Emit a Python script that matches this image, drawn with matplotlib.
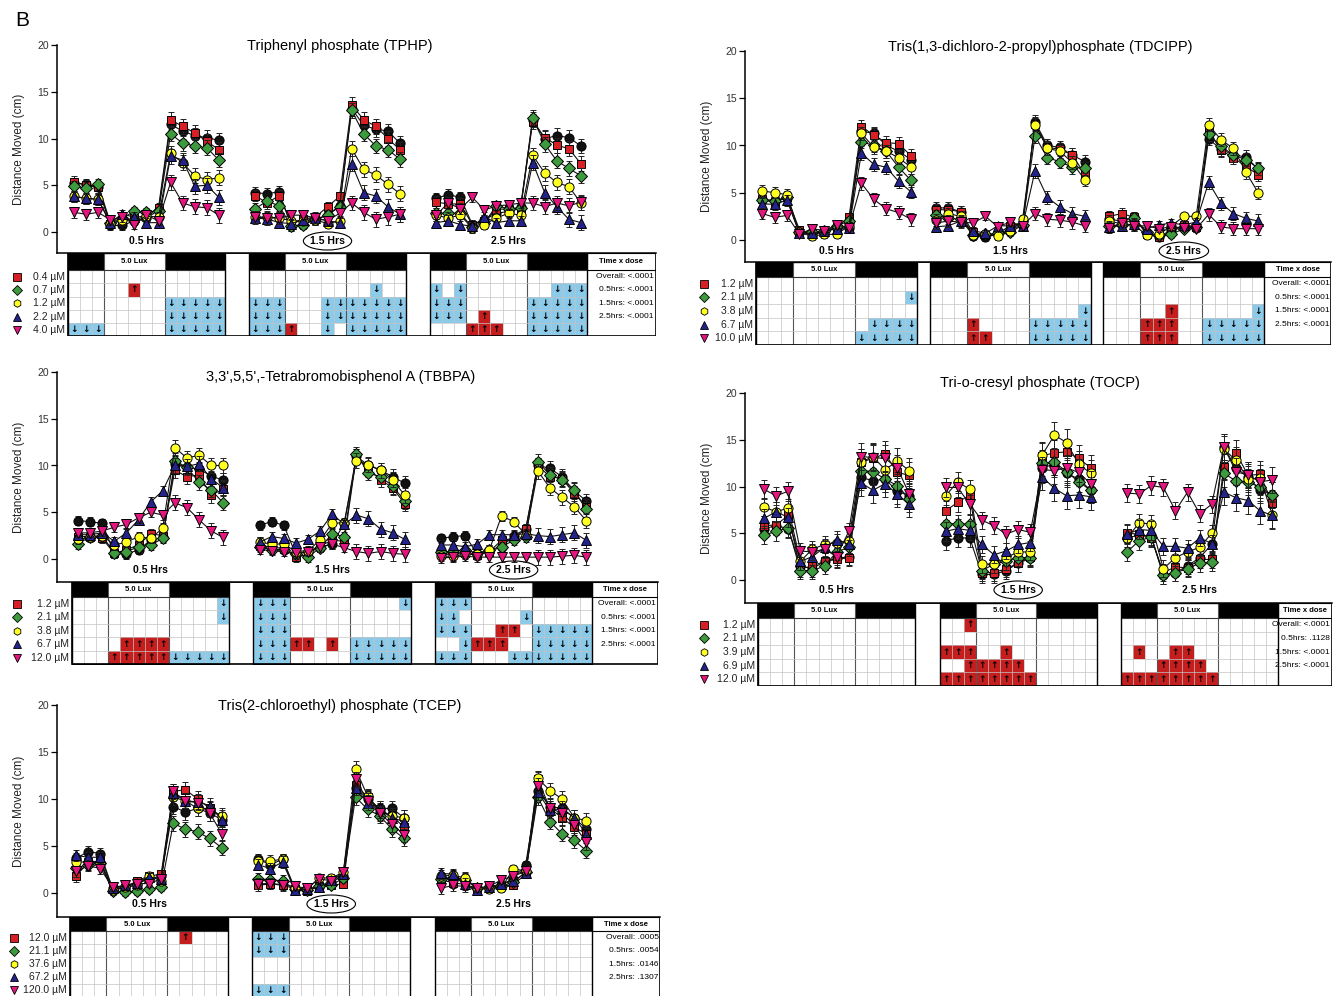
import numpy as np
import matplotlib.pyplot as plt
from matplotlib.patches import Rectangle, Ellipse

plt.rcParams['font.family'] = ['Liberation Sans', 'DejaVu Sans']

# ---------------- data (3 time blocks x 13 bins each) ----------------
# TPHP
tphp_ctrl = [5.2, 5.1, 4.8, 0.7, 0.7, 1.2, 1.5, 2.3, 11.5, 10.8, 10.3, 10.1, 9.8,
             4.2, 4.1, 4.3, 0.6, 0.8, 1.3, 1.8, 2.8, 13.2, 11.4, 11.0, 10.8, 9.5,
             3.6, 4.0, 3.7, 0.8, 1.3, 2.0, 2.2, 2.7, 12.0, 10.0, 10.3, 10.1, 9.2]
tphp_d1 = [5.4, 5.0, 4.8, 0.9, 1.2, 1.5, 1.8, 2.6, 12.0, 11.3, 10.6, 9.7, 8.8,
           3.9, 3.1, 3.9, 0.9, 1.4, 1.6, 2.7, 3.8, 13.6, 12.0, 11.3, 10.0, 8.8,
           3.2, 3.0, 3.0, 0.8, 1.2, 2.4, 2.5, 2.5, 11.8, 10.1, 9.3, 8.9, 7.3]
tphp_d2 = [4.9, 4.7, 5.1, 1.0, 1.5, 2.2, 2.1, 2.2, 10.5, 9.5, 9.2, 9.0, 7.7,
           2.5, 3.3, 2.8, 0.6, 0.8, 1.4, 1.8, 2.7, 13.0, 10.5, 9.2, 8.8, 7.8,
           2.0, 2.0, 2.0, 0.5, 1.0, 2.8, 2.5, 2.6, 12.2, 9.4, 7.6, 6.8, 6.0]
tphp_d3 = [3.8, 3.6, 3.5, 0.9, 1.3, 1.3, 1.7, 1.6, 8.4, 7.4, 6.0, 5.6, 5.8,
           1.6, 1.6, 1.5, 1.2, 1.2, 1.3, 0.9, 1.2, 8.9, 6.7, 6.1, 5.1, 4.1,
           1.8, 1.5, 1.8, 0.4, 0.8, 1.5, 2.0, 1.8, 8.2, 6.3, 5.3, 4.85, 3.1]
tphp_d4 = [3.8, 3.6, 3.5, 1.0, 1.9, 1.6, 1.0, 1.0, 8.1, 7.7, 4.9, 5.0, 3.7,
           1.5, 1.4, 1.0, 0.9, 1.3, 1.5, 1.2, 1.0, 7.3, 4.2, 3.85, 2.7, 1.9,
           1.0, 1.2, 0.8, 0.6, 1.6, 1.0, 1.2, 1.2, 7.4, 4.2, 2.7, 1.35, 1.0]
tphp_d5 = [2.1, 1.9, 2.1, 1.3, 1.6, 0.8, 1.8, 1.2, 5.3, 3.1, 2.7, 2.6, 1.8,
           1.6, 1.5, 1.5, 1.8, 1.8, 1.5, 1.2, 2.0, 3.1, 2.1, 1.35, 1.6, 1.9,
           1.8, 3.1, 2.5, 3.7, 2.35, 2.8, 2.9, 3.1, 3.1, 2.7, 3.1, 2.8, 3.2]
tphp_sem = [0.6, 0.5, 0.8]
tphp_doses = ['0.4', '0.7', '1.2', '2.2', '4.0']
tphp_sig = [".............|.............|.............",
            ".....u.......|..........d..|d.d.......ddd",
            "........ddddd|ddd...ddddddd|ddd.....ddddd",
            "........ddddd|ddd...ddddddd|ddd.u...ddddd",
            "ddd.....ddddd|dddu..d.ddddd|...uuu..ddddd"]
tphp_p = ['Overall: <.0001', '0.5hrs: <.0001', '1.5hrs: <.0001', '2.5hrs: <.0001']

# TDCIPP
tdcipp_ctrl = [4.3, 4.2, 4.4, 0.7, 0.7, 0.8, 1.3, 1.3, 11.5, 11.3, 10.0, 9.4, 8.5,
               3.4, 3.4, 3.0, 0.4, 0.3, 0.6, 1.2, 1.5, 12.5, 10.0, 9.8, 9.0, 8.3,
               2.2, 2.0, 2.4, 0.7, 0.3, 1.1, 1.5, 1.3, 10.7, 9.6, 9.0, 8.8, 7.5]
tdcipp_d1 = [4.3, 4.0, 4.5, 1.1, 0.6, 0.8, 1.4, 2.4, 12.0, 11.1, 10.3, 10.2, 8.9,
             3.2, 3.2, 3.0, 0.8, 0.5, 0.7, 1.5, 1.8, 12.3, 9.8, 9.6, 9.0, 7.0,
             2.5, 2.8, 2.4, 0.6, 0.3, 0.8, 1.6, 1.4, 11.5, 9.5, 8.7, 7.8, 6.9]
tdcipp_d2 = [4.2, 4.1, 4.6, 0.8, 0.8, 0.9, 1.5, 2.0, 10.4, 10.0, 9.4, 7.7, 6.3,
             2.6, 2.3, 2.2, 0.5, 0.6, 0.7, 0.8, 1.6, 11.0, 8.7, 8.3, 7.7, 7.6,
             1.5, 1.6, 2.3, 0.8, 0.5, 0.6, 1.2, 1.4, 11.2, 9.9, 9.0, 8.5, 7.6]
tdcipp_d3 = [5.2, 5.0, 4.8, 0.8, 0.4, 0.6, 0.6, 1.5, 11.3, 9.8, 9.4, 8.7, 7.7,
             2.1, 2.8, 2.5, 0.5, 0.6, 0.4, 0.9, 2.2, 12.2, 9.7, 9.4, 8.2, 6.4,
             2.0, 1.7, 1.6, 0.5, 0.6, 1.5, 2.5, 2.5, 12.2, 10.6, 9.7, 7.2, 5.0]
tdcipp_d4 = [3.8, 3.8, 4.2, 0.7, 0.7, 0.9, 1.2, 1.3, 9.2, 8.0, 7.7, 6.2, 5.1,
             1.4, 1.5, 2.0, 1.0, 0.7, 1.5, 1.5, 1.5, 7.3, 4.5, 3.5, 2.8, 2.5,
             1.4, 1.5, 1.7, 1.2, 1.6, 1.8, 1.6, 1.9, 6.1, 3.9, 2.8, 2.3, 2.0]
tdcipp_d5 = [2.8, 2.4, 2.6, 0.6, 1.2, 1.0, 1.6, 1.3, 6.0, 4.3, 3.3, 2.9, 2.2,
             1.8, 2.0, 1.9, 1.8, 2.5, 1.4, 1.9, 1.5, 2.8, 2.2, 2.1, 1.9, 1.5,
             1.3, 1.8, 1.5, 1.5, 1.2, 1.4, 1.3, 1.2, 2.7, 1.4, 1.2, 1.2, 1.2]
tdcipp_sem = [0.6, 0.4, 0.7]
tdcipp_doses = ['1.2', '2.1', '3.8', '6.7', '10.0']
tdcipp_sig = [".............|.............|.............",
              "............d|.............|.............",
              ".............|............d|.....u......d",
              ".........dddd|...u....ddddd|...uuu..ddddd",
              "........ddddd|...uu...ddddd|...uuu..ddddd"]
tdcipp_p = ['Overall: <.0001', '0.5hrs: <.0001', '1.5hrs: <.0001', '2.5hrs: <.0001']

# TBBPA
tbbpa_ctrl = [4.1, 4.0, 3.8, 0.6, 0.5, 1.0, 2.0, 2.3, 10.2, 9.8, 9.6, 8.9, 8.4,
              3.6, 4.0, 3.6, 0.5, 0.8, 1.2, 1.6, 3.8, 11.0, 10.0, 9.5, 8.8, 8.1,
              2.2, 2.4, 2.5, 0.5, 0.8, 1.3, 2.5, 3.2, 10.0, 9.7, 8.8, 7.3, 6.2]
tbbpa_d1 = [2.4, 2.4, 2.2, 0.6, 1.0, 1.5, 2.7, 2.5, 9.5, 8.8, 9.0, 6.8, 7.5,
            1.4, 1.3, 1.1, 0.2, 0.5, 1.4, 2.0, 1.9, 11.0, 9.6, 8.5, 7.6, 5.9,
            0.5, 0.5, 0.6, 0.4, 0.8, 2.0, 2.2, 3.2, 10.0, 8.8, 8.6, 7.0, 5.6]
tbbpa_d2 = [1.6, 2.4, 2.5, 0.6, 0.8, 1.3, 1.5, 2.2, 10.5, 9.8, 8.2, 7.4, 6.0,
            1.3, 1.0, 1.0, 0.5, 0.2, 1.2, 2.7, 2.4, 11.2, 9.2, 8.8, 7.8, 6.2,
            0.8, 0.8, 1.0, 0.6, 1.0, 1.3, 2.0, 2.3, 10.4, 9.0, 8.5, 7.4, 5.3]
tbbpa_d3 = [2.1, 2.3, 2.5, 1.5, 1.8, 2.4, 2.2, 3.3, 11.9, 10.8, 11.1, 10.0, 10.0,
            1.8, 1.6, 1.6, 0.8, 0.9, 2.0, 3.8, 3.9, 10.5, 10.1, 9.5, 8.5, 6.8,
            0.3, 0.3, 0.5, 0.5, 1.0, 4.6, 4.0, 2.6, 9.4, 7.6, 6.6, 5.6, 4.1]
tbbpa_d4 = [2.6, 2.6, 2.8, 1.9, 2.8, 4.2, 6.1, 7.3, 10.0, 9.9, 10.2, 8.6, 7.6,
            1.8, 2.4, 2.2, 1.7, 2.1, 3.0, 4.8, 3.7, 4.7, 4.3, 3.2, 2.8, 2.1,
            1.5, 1.5, 1.3, 1.6, 2.6, 2.6, 2.6, 2.7, 2.5, 2.4, 2.6, 2.8, 2.0]
tbbpa_d5 = [2.8, 2.8, 3.0, 3.4, 3.7, 4.4, 5.0, 4.7, 6.0, 5.5, 4.2, 3.0, 2.3,
            1.0, 0.9, 0.8, 0.6, 0.8, 1.3, 1.6, 1.2, 0.8, 0.6, 0.8, 0.6, 0.5,
            0.1, 0.2, 0.3, 0.2, 0.2, 0.2, 0.2, 0.2, 0.2, 0.2, 0.3, 0.4, 0.2]
tbbpa_sem = [0.5, 0.5, 0.8]
tbbpa_doses = ['1.2', '2.1', '3.8', '6.7', '12.0']
tbbpa_sig = ["............d|ddd.........d|ddd..........",
             "............d|ddd..........|dd.....d.....",
             ".............|ddd..........|ddd..uu.ddddd",
             "....uuuu.....|ddduu.u.ddddd|..duuu..ddddd",
             "...uuuuuddddd|ddd.....ddddd|ddd...ddddddd"]
tbbpa_p = ['Overall: <.0001', '0.5hrs: <.0001', '1.5hrs: <.0001', '2.5hrs: <.0001']

# TOCP
tocp_ctrl = [5.5, 5.8, 5.5, 1.5, 1.2, 2.0, 2.3, 2.5, 11.0, 10.6, 10.8, 9.5, 9.0,
             4.2, 4.5, 4.5, 0.6, 0.6, 1.0, 1.8, 2.3, 12.0, 12.4, 11.4, 10.8, 9.6,
             4.5, 4.8, 4.7, 0.5, 0.8, 1.5, 2.4, 3.8, 14.2, 12.0, 11.0, 9.6, 9.1]
tocp_d1 = [5.8, 5.9, 6.9, 1.2, 1.5, 2.0, 2.2, 2.4, 12.6, 13.0, 13.5, 11.5, 11.2,
           7.4, 8.3, 9.1, 0.8, 0.8, 1.2, 1.8, 2.5, 13.3, 13.6, 13.7, 13.0, 12.0,
           5.0, 4.9, 4.5, 0.8, 1.4, 1.3, 2.2, 2.2, 12.1, 13.6, 11.2, 11.3, 8.2]
tocp_d2 = [4.8, 5.2, 5.6, 1.0, 1.0, 1.5, 3.0, 3.5, 11.7, 11.6, 10.8, 10.1, 8.7,
           6.0, 6.0, 6.0, 1.0, 1.7, 2.0, 2.4, 2.4, 12.5, 12.6, 11.6, 10.5, 9.6,
           3.0, 4.2, 4.6, 0.5, 0.8, 1.2, 1.8, 1.9, 11.4, 10.6, 10.5, 9.9, 9.1]
tocp_d3 = [7.8, 7.3, 7.7, 2.0, 3.3, 3.8, 4.0, 4.2, 12.6, 13.2, 11.8, 12.7, 11.7,
           9.0, 10.5, 9.7, 1.7, 1.7, 2.4, 3.0, 3.0, 13.4, 15.5, 14.7, 12.4, 11.4,
           4.5, 6.1, 6.0, 1.2, 2.4, 3.0, 3.5, 5.0, 14.0, 12.8, 10.8, 10.9, 7.0]
tocp_d4 = [6.6, 7.3, 6.7, 2.0, 2.5, 3.5, 4.3, 3.8, 10.4, 9.6, 10.3, 9.2, 8.1,
           5.2, 5.5, 5.3, 3.8, 2.7, 3.1, 3.8, 4.0, 11.0, 9.8, 9.0, 9.1, 8.9,
           4.9, 5.4, 5.3, 3.6, 3.6, 3.4, 4.5, 3.9, 9.4, 8.8, 8.5, 7.4, 6.9]
tocp_d5 = [9.7, 9.0, 9.5, 3.1, 3.0, 3.3, 2.5, 5.2, 13.2, 13.1, 13.0, 12.0, 9.2,
           9.9, 9.9, 8.1, 6.4, 5.8, 4.9, 5.4, 5.1, 11.8, 11.7, 12.0, 11.5, 10.3,
           9.3, 9.2, 10.1, 9.9, 7.4, 9.4, 7.1, 8.1, 14.2, 11.6, 11.2, 10.5, 10.7]
tocp_sem = [1.0, 0.9, 1.4]
tocp_doses = ['1.2', '2.1', '3.9', '6.9', '12.0']
tocp_sig = [".............|..u..........|.............",
            ".............|.............|.............",
            ".............|uuu..u.......|.u..uu.......",
            ".............|..uuuuu......|...uuuu......",
            ".............|uuuuuuuu.....|uuuuuuuu....."]
tocp_p = ['Overall: <.0001', '0.5hrs: .1128', '1.5hrs: <.0001', '2.5hrs: <.0001']

# TCEP
tcep_ctrl = [3.7, 4.4, 4.2, 0.5, 0.6, 1.0, 1.5, 1.8, 9.2, 8.6, 9.0, 8.5, 7.8,
             3.6, 3.0, 3.6, 0.4, 0.5, 0.6, 1.2, 1.8, 11.2, 10.0, 9.0, 9.0, 8.0,
             1.6, 1.6, 1.5, 0.5, 0.6, 0.9, 1.5, 3.0, 10.9, 9.2, 9.0, 8.0, 6.8]
tcep_d1 = [1.8, 3.3, 3.4, 0.4, 0.5, 1.3, 1.8, 2.0, 10.8, 11.0, 10.0, 9.0, 8.0,
           0.8, 1.0, 0.9, 0.4, 0.2, 0.7, 0.8, 1.0, 11.5, 10.2, 8.6, 8.2, 7.0,
           1.4, 1.1, 0.9, 0.5, 0.5, 0.7, 0.9, 2.0, 12.1, 9.0, 8.0, 7.0, 6.3]
tcep_d2 = [2.7, 3.0, 3.2, 0.2, 0.1, 0.2, 0.4, 0.6, 7.4, 6.8, 6.5, 5.8, 4.8,
           1.5, 1.4, 1.3, 0.4, 0.3, 0.7, 0.8, 1.6, 10.2, 8.9, 8.2, 6.8, 5.8,
           1.5, 1.6, 1.4, 0.5, 0.6, 0.7, 1.2, 2.2, 10.2, 7.6, 6.3, 5.6, 4.5]
tcep_d3 = [3.3, 3.3, 3.2, 0.3, 0.6, 0.8, 1.8, 1.3, 10.2, 9.8, 9.0, 8.9, 8.2,
           3.4, 3.4, 3.6, 0.5, 0.4, 1.6, 1.6, 2.2, 13.2, 10.3, 8.8, 8.2, 8.0,
           1.8, 1.9, 1.6, 0.5, 0.4, 0.5, 2.6, 2.3, 12.2, 10.9, 10.0, 8.0, 7.7]
tcep_d4 = [4.0, 3.8, 3.8, 0.5, 0.8, 1.1, 1.7, 1.5, 10.6, 9.8, 9.7, 9.3, 7.8,
           3.0, 2.6, 3.3, 0.3, 0.4, 0.6, 1.4, 2.0, 11.2, 9.6, 9.0, 8.0, 7.6,
           2.1, 2.0, 1.0, 0.3, 0.6, 1.0, 1.3, 2.1, 10.7, 8.8, 9.0, 8.0, 6.3]
tcep_d5 = [2.3, 2.9, 2.6, 0.6, 0.8, 1.0, 1.0, 1.5, 10.8, 9.8, 9.6, 8.5, 6.3,
           1.0, 1.0, 0.8, 0.7, 0.5, 1.5, 1.3, 2.2, 12.1, 9.8, 8.5, 7.3, 6.2,
           0.5, 0.8, 0.7, 0.5, 0.7, 1.4, 1.8, 2.3, 11.4, 9.0, 8.5, 7.2, 5.4]
tcep_sem = [0.6, 0.4, 0.8]
tcep_doses = ['12.0', '21.1', '37.6', '67.2', '120.0']
tcep_sig = [".........u...|ddd..........|.............",
            ".............|ddd..........|.............",
            ".............|.............|.............",
            ".............|.............|.............",
            ".............|ddd..........|............."]
tcep_p = ['Overall: .0005', '0.5hrs: .0054', '1.5hrs: .0146', '2.5hrs: .1307']

hrs = ['0.5 Hrs', '1.5 Hrs', '2.5 Hrs']

# ---------------- styles ----------------
markers = ['o', 's', 'D', 'o', '^', 'v']
leg_markers = ['s', 'D', 'h', '^', 'v']
colors = ['#111111', '#d71f26', '#3d9a3d', '#ffff22', '#23238a', '#e3167f']
msizes = [6.6, 5.8, 5.8, 6.6, 6.6, 6.6]

panels = [
    dict(title='Triphenyl phosphate (TPHP)', circled=1,
         series=[tphp_ctrl, tphp_d1, tphp_d2, tphp_d3, tphp_d4, tphp_d5],
         sem=tphp_sem, doses=tphp_doses, sig=tphp_sig, pvals=tphp_p,
         geo=dict(x_sp=57, tab_l=68, cell=12.07, gap=2, tw=5.7, y20=45, y0=232,
                  t_top=253, hh=17, row=13.3, mk=17, tx=340, ty=46, ly=241)),
    dict(title='Tris(1,3-dichloro-2-propyl)phosphate (TDCIPP)', circled=2,
         series=[tdcipp_ctrl, tdcipp_d1, tdcipp_d2, tdcipp_d3, tdcipp_d4, tdcipp_d5],
         sem=tdcipp_sem, doses=tdcipp_doses, sig=tdcipp_sig, pvals=tdcipp_p,
         geo=dict(x_sp=745, tab_l=756, cell=12.4, gap=1, tw=5.4, y20=51, y0=240,
                  t_top=262, hh=15, row=13.6, mk=704, tx=1040, ty=47, ly=251)),
    dict(title="3,3',5,5',-Tetrabromobisphenol A (TBBPA)", circled=2,
         series=[tbbpa_ctrl, tbbpa_d1, tbbpa_d2, tbbpa_d3, tbbpa_d4, tbbpa_d5],
         sem=tbbpa_sem, doses=tbbpa_doses, sig=tbbpa_sig, pvals=tbbpa_p,
         geo=dict(x_sp=57, tab_l=72, cell=12.1, gap=2, tw=5.4, y20=372, y0=559,
                  t_top=582, hh=15, row=13.5, mk=17, tx=341, ty=377, ly=570)),
    dict(title='Tri-o-cresyl phosphate (TOCP)', circled=1,
         series=[tocp_ctrl, tocp_d1, tocp_d2, tocp_d3, tocp_d4, tocp_d5],
         sem=tocp_sem, doses=tocp_doses, sig=tocp_sig, pvals=tocp_p,
         geo=dict(x_sp=745, tab_l=758, cell=12.1, gap=2, tw=4.4, y20=393, y0=580,
                  t_top=603, hh=15, row=13.6, mk=704, tx=1040, ty=383, ly=590)),
    dict(title='Tris(2-chloroethyl) phosphate (TCEP)', circled=1,
         series=[tcep_ctrl, tcep_d1, tcep_d2, tcep_d3, tcep_d4, tcep_d5],
         sem=tcep_sem, doses=tcep_doses, sig=tcep_sig, pvals=tcep_p,
         geo=dict(x_sp=57, tab_l=70, cell=12.15, gap=2, tw=5.6, y20=705, y0=893,
                  t_top=917, hh=14, row=13.2, mk=14, tx=340, ty=706, ly=904)),
]

W, H = 1335, 996
fig = plt.figure(figsize=(W / 100, H / 100), dpi=100)
fig.text(15 / W, 1 - 20 / H, 'B', fontsize=15, ha='left', va='center')


def draw(p):
    g = p['geo']
    cell, gap = g['cell'], g['gap']
    starts = [0, 13 + gap, 26 + 2 * gap]
    u_time = 39 + 2 * gap
    u_right = u_time + g['tw']
    u_left = (g['x_sp'] - g['tab_l']) / cell
    x0 = g['x_sp']
    x1 = g['tab_l'] + u_right * cell
    ppu = (g['y0'] - g['y20']) / 20.0

    # ---- line plot ----
    ax = fig.add_axes([x0 / W, 1 - g['t_top'] / H, (x1 - x0) / W, (g['t_top'] - g['y20']) / H])
    ax.patch.set_alpha(0)
    ax.set_xlim(u_left, u_right)
    ax.set_ylim(-(g['t_top'] - g['y0']) / ppu, 20)
    for sp in ['top', 'right']:
        ax.spines[sp].set_visible(False)
    ax.spines['left'].set_linewidth(1.1)
    ax.spines['bottom'].set_linewidth(1.1)
    ax.set_xticks([])
    ax.set_yticks([0, 5, 10, 15, 20])
    ax.tick_params(axis='y', length=4, width=0.9, labelsize=7.5, labelcolor='#333', pad=2)
    ax.set_ylabel('Distance Moved (cm)', fontsize=8.5, color='#222', labelpad=9)

    xs = np.concatenate([s + np.arange(13) + 0.5 for s in starts])
    err = np.tile(np.repeat(p['sem'], [3, 5, 5]), 3)
    for k, ys in enumerate(p['series']):
        ys = np.asarray(ys)
        for b in range(3):
            sl = slice(13 * b, 13 * b + 13)
            ax.errorbar(xs[sl], ys[sl], yerr=err[sl], fmt='none', ecolor='#222',
                        elinewidth=0.7, capsize=2.5, capthick=0.7, zorder=2 + k)
            ax.plot(xs[sl], ys[sl], color='#111', lw=0.8, zorder=2 + k)
        ax.plot(xs, ys, ls='none', marker=markers[k], ms=msizes[k], mfc=colors[k],
                mec='black', mew=0.7, zorder=2.5 + k)

    ax.text((g['tx'] - g['tab_l']) / cell, (g['y0'] - g['ty']) / ppu, p['title'],
            ha='center', va='center', fontsize=10.5, clip_on=False)
    ly = (g['y0'] - g['ly']) / ppu
    for b, s in enumerate(starts):
        ax.text(s + 6.5, ly, hrs[b], ha='center', va='center', fontsize=7.5, fontweight='bold')
        if b == p['circled']:
            ax.add_patch(Ellipse((s + 6.5, ly), 4.0, 18 / ppu, fill=False, lw=0.8))

    # ---- significance table ----
    hh = g['hh'] / g['row']
    th_px = g['hh'] + 5 * g['row']
    tb = fig.add_axes([x0 / W, 1 - (g['t_top'] + th_px) / H, (x1 - x0) / W, th_px / H])
    tb.set_xlim(u_left, u_right)
    tb.set_ylim(hh + 5, 0)
    tb.axis('off')
    for b, s in enumerate(starts):
        tb.add_patch(Rectangle((s, 0), 3, hh, fc='black', lw=0))
        tb.add_patch(Rectangle((s + 8, 0), 5, hh, fc='black', lw=0))
        tb.text(s + 5.5, hh / 2, '5.0 Lux', ha='center', va='center', fontsize=5.5,
                fontweight='bold')
        for r in range(5):
            code = p['sig'][r].split('|')[b]
            for c, ch in enumerate(code):
                if ch == 'u':
                    fc, arr = '#c41e1e', '\u2191'
                elif ch == 'd':
                    fc, arr = '#8ccaea', '\u2193'
                else:
                    continue
                tb.add_patch(Rectangle((s + c, hh + r), 1, 1, fc=fc, lw=0, zorder=1))
                tb.text(s + c + 0.5, hh + r + 0.5, arr, ha='center', va='center',
                        fontsize=6.5, fontweight='bold', family='DejaVu Sans', zorder=3)
        for c in range(1, 13):
            dark = c in (3, 8)
            tb.plot([s + c] * 2, [0 if dark else hh, hh + 5], color='#555' if dark else '#c4c4c4',
                    lw=0.8 if dark else 0.5, zorder=2)
        for r in range(1, 5):
            tb.plot([s, s + 13], [hh + r] * 2, color='#c4c4c4', lw=0.5, zorder=2)
        tb.plot([s, s + 13], [hh, hh], color='#333', lw=0.8, zorder=2)
        tb.add_patch(Rectangle((s, 0), 13, hh + 5, fill=False, ec='black', lw=1.0, zorder=4))

    tb.add_patch(Rectangle((u_time, 0), g['tw'], hh, fill=False, ec='black', lw=0.8))
    tb.text(u_time + g['tw'] / 2, hh / 2, 'Time x dose', ha='center', va='center',
            fontsize=5.5, fontweight='bold')
    for r, t in enumerate(p['pvals']):
        tb.text(u_time + g['tw'] - 0.15, hh + r + 0.5, t, ha='right', va='center', fontsize=6)
    tb.add_patch(Rectangle((0, 0), u_right, hh + 5, fill=False, ec='black', lw=1.2, zorder=5))

    um = (g['mk'] - g['tab_l']) / cell
    for r in range(5):
        tb.plot(um, hh + r + 0.5, marker=leg_markers[r], ms=5.5, mfc=colors[r + 1],
                mec='black', mew=0.6, clip_on=False)
        tb.text(-0.25, hh + r + 0.5, p['doses'][r] + ' \u00b5M', ha='right', va='center',
                fontsize=7.5, color='#222', clip_on=False)


for p in panels:
    draw(p)

fig.savefig('out.png', dpi=100)
